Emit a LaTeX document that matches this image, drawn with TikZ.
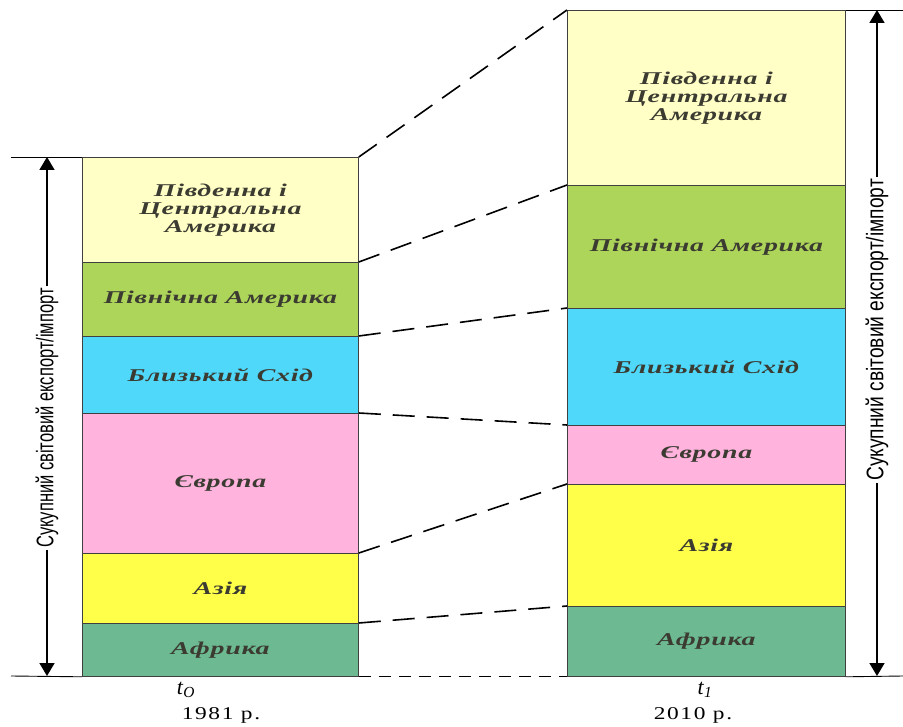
\documentclass[tikz,border=0pt]{standalone}
\usepackage{fontspec}
\setmainfont{Liberation Serif}
\newfontfamily\lblfont{Liberation Serif}[FakeStretch=1.55,LetterSpace=4]
\newfontfamily\axfont{Liberation Sans}[FakeStretch=0.8]
\newfontfamily\yrfont{Liberation Serif}[FakeStretch=1.3,LetterSpace=9]
\usetikzlibrary{arrows.meta}
\definecolor{cSC}{HTML}{FFFFC6}
\definecolor{cNA}{HTML}{ADD55A}
\definecolor{cME}{HTML}{4FD8FA}
\definecolor{cEU}{HTML}{FFB3DD}
\definecolor{cAS}{HTML}{FFFF4A}
\definecolor{cAF}{HTML}{6DBA92}
\definecolor{lblcol}{HTML}{3B3B32}
\tikzset{
  seg/.style={draw=black!75, line width=0.8pt, rectangle, inner sep=0pt, anchor=north west,
    text=lblcol, align=center, font=\lblfont\bfseries\itshape\fontsize{18}{18}\selectfont},
  segL/.style={seg, minimum width=276pt},
  segR/.style={seg, minimum width=278pt},
  conn/.style={dash pattern=on 22pt off 12pt, line width=1.6pt},
  baseconn/.style={dash pattern=on 12pt off 8pt, line width=1pt},
  rule/.style={line width=0.9pt},
  dim/.style={line width=1.6pt, {Triangle[width=15pt,length=13pt]}-{Triangle[width=15pt,length=13pt]}},
  axlabel/.style={fill=white, inner sep=2pt, rotate=90, font=\axfont\fontsize{24}{24}\selectfont},
  yr/.style={font=\yrfont\fontsize{18}{18}\selectfont},
  tlab/.style={font=\fontsize{22}{22}\selectfont}
}
\begin{document}
\begin{tikzpicture}[x=1pt,y=-1pt]
\useasboundingbox (0,0) rectangle (903,727);
% left column (1981)
\node[segL, fill=cSC, minimum height=105pt] (l1) at (82,157) {Південна і\\Центральна\\Америка};
\node[segL, fill=cNA, minimum height=74pt]  (l2) at (82,262) {Північна Америка};
\node[segL, fill=cME, minimum height=77pt]  (l3) at (82,336) {Близький Схід};
\node[segL, fill=cEU, minimum height=140pt] (l4) at (82,413) {Європа};
\node[segL, fill=cAS, minimum height=70pt]  (l5) at (82,553) {Азія};
\node[segL, fill=cAF, minimum height=53pt]  (l6) at (82,623) {Африка};
% right column (2010)
\node[segR, fill=cSC, minimum height=175pt] (r1) at (567,10) {Південна і\\Центральна\\Америка};
\node[segR, fill=cNA, minimum height=123pt] (r2) at (567,185) {Північна Америка};
\node[segR, fill=cME, minimum height=117pt] (r3) at (567,308) {Близький Схід};
\node[segR, fill=cEU, minimum height=59pt]  (r4) at (567,425) {Європа};
\node[segR, fill=cAS, minimum height=122pt] (r5) at (567,484) {Азія};
\node[segR, fill=cAF, minimum height=70pt]  (r6) at (567,606) {Африка};
% dashed connectors
\draw[conn] (l1.north east) -- (r1.north west);
\draw[conn] (l2.north east) -- (r2.north west);
\draw[conn] (l3.north east) -- (r3.north west);
\draw[conn] (l4.north east) -- (r4.north west);
\draw[conn] (l5.north east) -- (r5.north west);
\draw[conn] (l6.north east) -- (r6.north west);
\draw[baseconn] (l6.south east) -- (r6.south west);
% left dimension
\coordinate (ltl) at (11,157);
\coordinate (lbl) at (11,676);
\coordinate (la1) at (47,157);
\coordinate (la2) at (47,676);
\draw[rule] (ltl) -- (l1.north west);
\draw[rule] (lbl) -- (l6.south west);
\draw[dim] (la1) -- (la2);
\node[axlabel] (lax) at (47,418) {\scalebox{0.86}[1]{Сукупний світовий експорт/імпорт}};
% right dimension
\coordinate (rtr) at (903,10);
\coordinate (rbr) at (903,676);
\coordinate (ra1) at (877,10);
\coordinate (ra2) at (877,676);
\draw[rule] (r1.north east) -- (rtr);
\draw[rule] (r6.south east) -- (rbr);
\draw[dim] (ra1) -- (ra2);
\node[axlabel] (rax) at (877,330) {Сукупний світовий експорт/імпорт};
% time labels
\node[tlab] (t0) at (186,690) {\textit{t}\textsubscript{\textit{O}}};
\node[yr] (y0) at (221,715) {1981 р.};
\node[tlab] (t1) at (705,690) {\textit{t}\textsubscript{\textit{1}}};
\node[yr] (y1) at (693,715) {2010 р.};
\end{tikzpicture}
\end{document}
